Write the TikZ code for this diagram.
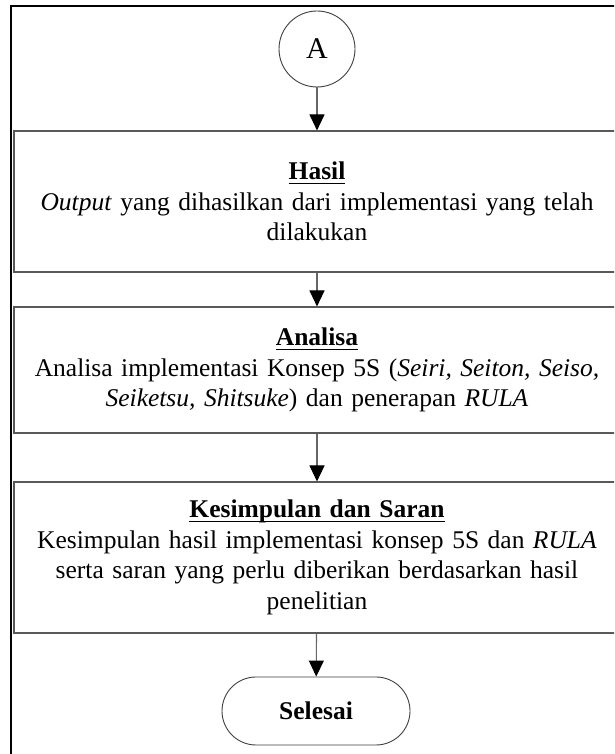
\documentclass[tikz,border=0pt]{standalone}
\usepackage{amsmath}
\usepackage{fontspec}
\setmainfont{Liberation Serif}
\usetikzlibrary{arrows.meta}
\usetikzlibrary{positioning}
\newcommand{\isi}{\fontsize{25.5}{30.5}\selectfont}
\newcommand{\judul}[1]{\underline{\smash[b]{\textbf{#1}}}}
\tikzset{
    kotak/.style={draw=black!65, line width=1.1pt, minimum width=606pt, text width=606pt, align=center, inner sep=0pt, font=\isi},
    ujung/.style={draw=black!75, line width=0.9pt, font=\isi},
    konektor/.style={draw=black!60, line width=1.1pt, -{Triangle[width=15pt, length=16pt, color=black]}},
    bingkai/.style={line width=2.6pt},
}

\begin{document}
\begin{tikzpicture}[x=1pt, y=1pt]
                \clip (0,0) rectangle (614,754);
                \fill[white] (0,0) rectangle (614,754);
                \draw[bingkai] (11,-10) -- (11,748) -- (640,748);
                \node[ujung, circle, minimum size=76pt, inner sep=0pt, font=\fontsize{30}{36}\selectfont] (a) at (317,705) {A};
                \node[kotak, minimum height=141pt] (hasil) at (317,552.5) {\judul{Hasil}\\
                    \textit{Output} yang dihasilkan dari implementasi yang telah\\
                    dilakukan};
                \node[kotak, minimum height=126pt] (analisa) at (317,384) {\judul{Analisa}\\
                    Analisa implementasi Konsep 5S (\textit{Seiri, Seiton, Seiso,}\\
                    \textit{Seiketsu, Shitsuke}) dan penerapan \textit{RULA}};
                \node[kotak, minimum height=151pt] (simpulan) at (317,196.5) {\judul{Kesimpulan dan Saran}\\
                    Kesimpulan hasil implementasi konsep 5S dan \textit{RULA}\\
                    serta saran yang perlu diberikan berdasarkan hasil\\
                    penelitian};
                \node[ujung, rounded corners=34pt, minimum width=188pt, minimum height=68pt] (selesai) at (316,43) {\textbf{Selesai}};
                \draw[konektor] (a) -- (hasil);
                \draw[konektor] (hasil) -- (analisa);
                \draw[konektor] (analisa) -- (simpulan);
                \draw[konektor] (simpulan) -- (selesai);
            \end{tikzpicture}
\end{document}
